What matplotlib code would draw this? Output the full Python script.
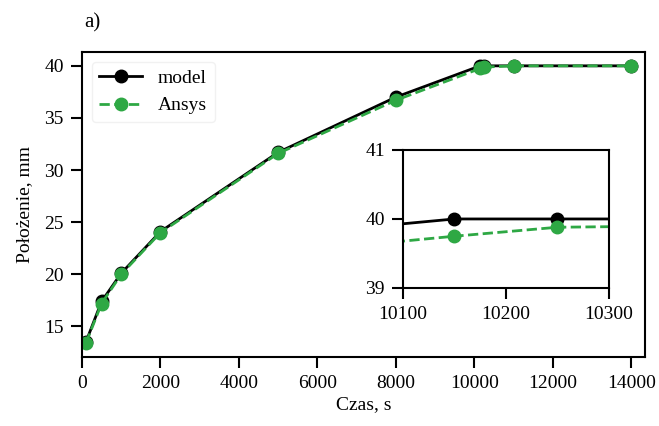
import matplotlib.pyplot as plt

czas = [100, 500, 1000, 2000, 5000, 8000, 10150, 10250, 11000, 14000]
model = [13.5, 17.4, 20.1, 24.1, 31.7, 37.0, 40.0, 40.0, 40.0, 40.0]
ansys = [13.4, 17.2, 20.0, 24.0, 31.6, 36.7, 39.75, 39.88, 40.0, 40.0]

plt.rcParams['font.family'] = ['Liberation Serif', 'DejaVu Serif']
plt.rcParams['font.size'] = 14

fig = plt.figure(figsize=(6.59, 4.26), dpi=100)
ax = fig.add_axes([0.1244, 0.162, 0.8544, 0.716])

ax.plot(czas, model, '-o', color='black', lw=2, ms=9, label='model')
ax.plot(czas, ansys, '--o', color='#2ea844', lw=2, ms=9, label='Ansys')
ax.set_xlim(0, 14350)
ax.set_xticks(range(0, 14001, 2000))
ax.set_yticks([15, 20, 25, 30, 35, 40])
ax.tick_params(direction='out', length=8, width=1.5, pad=5)
for s in ax.spines.values():
    s.set_linewidth(1.5)
ax.set_xlabel('Czas, s', labelpad=3)
ax.set_ylabel('Położenie, mm', labelpad=8)
ax.legend(loc='upper left', fontsize=14, handlelength=2.2, edgecolor='#eeeeee')
fig.text(0.128, 0.935, 'a)', fontsize=15)

# powiększenie
ins = fig.add_axes([0.6115, 0.324, 0.3126, 0.324])
ins.plot(czas, model, '-o', color='black', lw=2, ms=9)
ins.plot(czas, ansys, '--o', color='#2ea844', lw=2, ms=9)
ins.set_xlim(10100, 10300)
ins.set_ylim(39, 41)
ins.set_xticks([10100, 10200, 10300])
ins.set_yticks([39, 40, 41])
ins.tick_params(direction='out', length=8, width=1.5, pad=5)
for s in ins.spines.values():
    s.set_linewidth(1.5)

fig.savefig('out.png')
